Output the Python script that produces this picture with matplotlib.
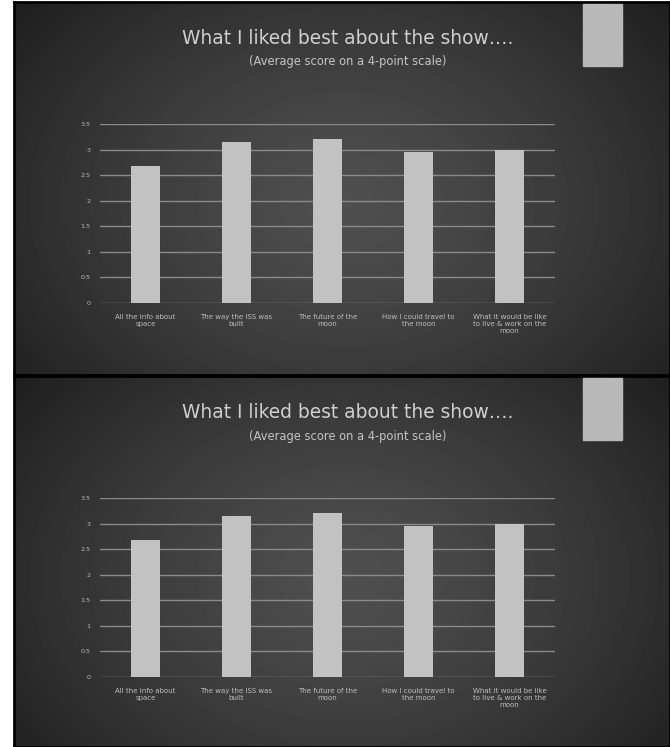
import numpy as np
import matplotlib.pyplot as plt
from matplotlib.patches import Rectangle

categories = ['All the info about\nspace', 'The way the ISS was\nbuilt',
              'The future of the\nmoon', 'How I could travel to\nthe moon',
              'What it would be like\nto live & work on the\nmoon']
scores = [2.68, 3.14, 3.20, 2.96, 2.99]
ticks = [0, 0.5, 1, 1.5, 2, 2.5, 3, 3.5]
tick_labels = ['0', '0.5', '1', '1.5', '2', '2.5', '3', '3.5']
title = 'What I liked best about the show….'
subtitle = '(Average score on a 4-point scale)'

W, H = 670, 747
fig = plt.figure(figsize=(W / 100, H / 100), dpi=100, facecolor='white')


def px(x0, y0, w, h):
    # pixel box (top-left origin) -> figure fraction
    return [x0 / W, 1 - (y0 + h) / H, w / W, h / H]


def slide(top, height):
    # dark vignette background
    bg = fig.add_axes(px(14, top, W - 14, height))
    yy, xx = np.mgrid[0:height, 0:W - 14]
    r = np.hypot((xx - 330) / 420, (yy - 200) / 320)
    shade = 0.31 - 0.19 * np.clip(r, 0, 1) ** 1.3
    bg.imshow(shade, cmap='gray', vmin=0, vmax=1, aspect='auto',
              extent=[0, 1, 0, 1], interpolation='bilinear')
    bg.set_xticks([])
    bg.set_yticks([])
    for s in bg.spines.values():
        s.set_color('black')
        s.set_linewidth(2)

    fig.add_artist(Rectangle((583 / W, 1 - (top + 64) / H), 39 / W, 62 / H,
                             transform=fig.transFigure, color='#b8b8b8'))

    fig.text(348 / W, 1 - (top + 37) / H, title, ha='center', va='center',
             fontsize=13.4, color='#d0d0d0')
    fig.text(348 / W, 1 - (top + 60) / H, subtitle, ha='center', va='center',
             fontsize=8.3, color='#c4c4c4')

    ax = fig.add_axes(px(100, top + 122, 455, 179))
    ax.patch.set_visible(False)
    ax.bar(range(len(scores)), scores, width=0.32, color='#c2c2c2', zorder=3)
    ax.set_xlim(-0.5, len(scores) - 0.5)
    ax.set_ylim(0, 3.5)
    ax.set_yticks(ticks, tick_labels)
    ax.set_xticks(range(len(categories)), categories)
    ax.grid(axis='y', color='#8a8a8a', linewidth=1.0, zorder=0)
    for s in ax.spines.values():
        s.set_visible(False)
    ax.tick_params(length=0, colors='#bdbdbd', labelsize=4.6, pad=7)
    ax.tick_params(axis='x', labelsize=5.0, pad=8)
    for lab in ax.get_xticklabels():
        lab.set_linespacing(1.15)


slide(2, 373)
slide(376, 371)

fig.savefig('out.png', dpi=100, facecolor='white')
